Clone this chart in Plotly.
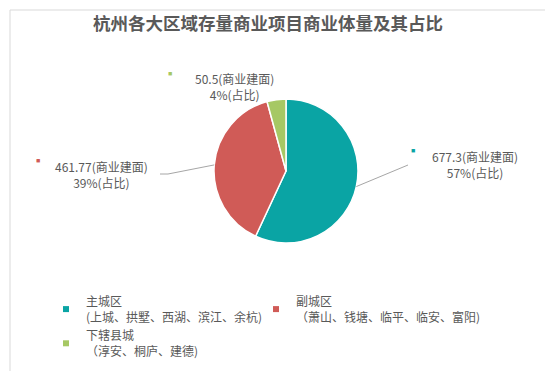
import math
import plotly.graph_objects as go

# ---- data ----
categories = ["主城区", "副城区", "下辖县城"]
districts = ["(上城、拱墅、西湖、滨江、余杭)", "（萧山、钱塘、临平、临安、富阳)", "（淳安、桐庐、建德)"]
values = [677.3, 461.77, 50.5]
value_unit = "(商业建面)"
share_unit = "(占比)"
title_text = "杭州各大区域存量商业项目商业体量及其占比"

# ---- styles / layout positions ----
colors = ["#0AA4A4", "#D05B57", "#A6C864"]
legend_ids = ["legend", "legend2", "legend"]
W, H = 553, 371
pie_cx, pie_cy, pie_r = 278, 163, 72          # pixels
label_pos = [(467, 156), (93, 166), (226, 78)]  # label centers (px)
key_pos = [(405, 142), (30, 152), (162, 65)]    # small colour keys (px)
leader_end = [[(400, 157)], [(160, 166), (152, 166)], []]
text_color = "#595959"
font_family = "Noto Sans CJK SC, Microsoft YaHei, sans-serif"


def px(x, y):
    return x / W, 1 - y / H


total = sum(values)
fig = go.Figure()

x0, y1 = px(pie_cx - pie_r, pie_cy - pie_r)
x1, y0 = px(pie_cx + pie_r, pie_cy + pie_r)
fig.add_trace(go.Pie(
    labels=categories, values=values, sort=False, direction="clockwise", rotation=0,
    marker=dict(colors=colors, line=dict(color="white", width=1.5)),
    textinfo="none", hoverinfo="label+value+percent", showlegend=False,
    domain=dict(x=[x0, x1], y=[y0, y1]),
))

# legend via dummy scatter traces (small square keys)
for cat, dist, col, lg in zip(categories, districts, colors, legend_ids):
    fig.add_trace(go.Scatter(
        x=[None], y=[None], mode="markers", name=f"{cat}<br>{dist}",
        marker=dict(symbol="square", size=6, color=col), showlegend=True, legend=lg,
    ))

annotations = []
shapes = []
cum = 0.0
for i, v in enumerate(values):
    pct = v / total * 100
    mid = (cum + v / 2) / total * 2 * math.pi
    cum += v
    lx, ly = label_pos[i]
    ax_, ay_ = px(lx, ly)
    annotations.append(dict(
        x=ax_, y=ay_, xref="paper", yref="paper", showarrow=False,
        xanchor="center", yanchor="middle",
        text=f"{v:g}{value_unit}<br>{pct:.0f}%{share_unit}",
        font=dict(size=12, color=text_color, family=font_family), align="center",
    ))
    kx, ky = px(*key_pos[i])
    annotations.append(dict(
        x=kx, y=ky, xref="paper", yref="paper", showarrow=False,
        xanchor="center", yanchor="middle",
        text="■", font=dict(size=7, color=colors[i]),
    ))
    if leader_end[i]:
        sx = pie_cx + pie_r * math.sin(mid)
        sy = pie_cy - pie_r * math.cos(mid)
        pts = [(sx, sy)] + leader_end[i]
        path = "M " + " L ".join(f"{px(a, b)[0]} {px(a, b)[1]}" for a, b in pts)
        shapes.append(dict(type="path", xref="paper", yref="paper", path=path,
                           line=dict(color="#A6A6A6", width=1)))

shapes.append(dict(type="rect", xref="paper", yref="paper",
                   x0=2 / W, x1=550 / W, y0=1 - 368 / H, y1=1 - 2 / H,
                   line=dict(color="#D9D9D9", width=1), layer="below"))

legend_common = dict(orientation="v", xanchor="left", yanchor="top",
                     font=dict(size=12, color=text_color, family=font_family),
                     bgcolor="rgba(0,0,0,0)", itemclick=False, tracegroupgap=0)

fig.update_layout(
    width=W, height=H, margin=dict(l=0, r=0, t=0, b=0, autoexpand=False),
    paper_bgcolor="white", plot_bgcolor="white",
    title=dict(text=f"<b>{title_text}</b>", x=260 / W, xanchor="center", y=1 - 16 / H, yanchor="middle",
               font=dict(size=17.5, color=text_color, family=font_family)),
    xaxis=dict(visible=False), yaxis=dict(visible=False),
    legend=dict(x=38 / W, y=1 - 279 / H, **legend_common),
    legend2=dict(x=248 / W, y=1 - 279 / H, **legend_common),
    annotations=annotations, shapes=shapes,
)

fig.write_html("out.html")
